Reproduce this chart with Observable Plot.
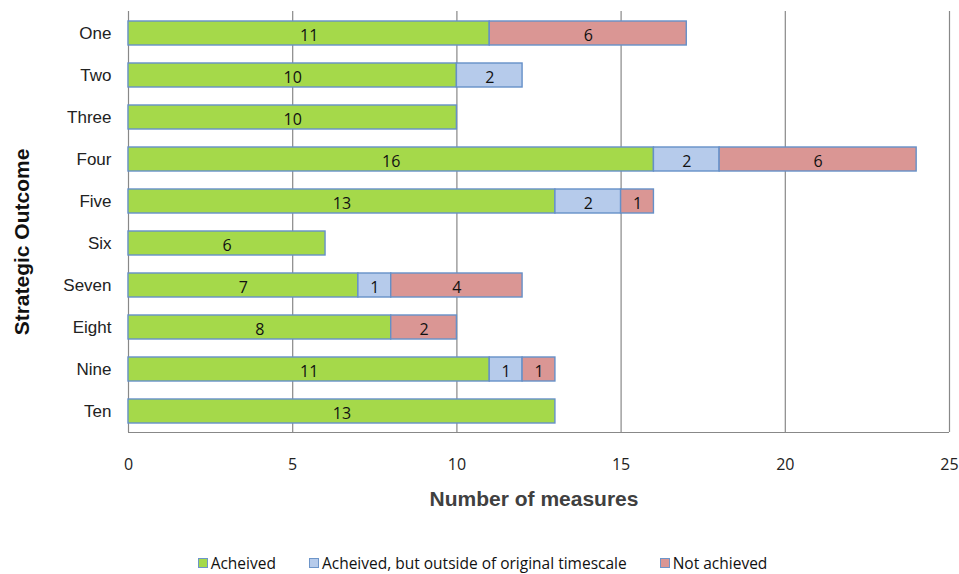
<!DOCTYPE html>
<html>
<head>
<meta charset="utf-8">
<script src="https://cdn.jsdelivr.net/npm/d3@7"></script>
<script src="https://cdn.jsdelivr.net/npm/@observablehq/plot@0.6"></script>
<style>
  body { margin: 0; background: #fff; font-family: "Liberation Sans", Arial, sans-serif; }
  #legend { display: flex; justify-content: center; gap: 33px; font-family: "Open Sans", "Liberation Sans", sans-serif; font-size: 15.5px; color: #111; margin-top: 12px; padding-left: 6px; }
  #legend span.item { display: flex; align-items: center; }
  #legend span.sw { display: inline-block; width: 8px; height: 8px; border: 1px solid #6d95c9; margin-right: 3px; }
</style>
</head>
<body>
<div id="chart"></div>
<div id="legend"></div>
<script>
const outcomes = ["One", "Two", "Three", "Four", "Five", "Six", "Seven", "Eight", "Nine", "Ten"];
const series = ["Acheived", "Acheived, but outside of original timescale", "Not achieved"];
const achieved    = [11, 10, 10, 16, 13, 6, 7, 8, 11, 13];
const lateAchieved = [0, 2, 0, 2, 2, 0, 1, 0, 1, 0];
const notAchieved = [6, 0, 0, 6, 1, 0, 4, 2, 1, 0];
const colors = ["#a5d94a", "#b6cbeb", "#da9694"];
const xTicks = [0, 5, 10, 15, 20, 25];

const seriesValues = [achieved, lateAchieved, notAchieved];
const data = [];
series.forEach((s, si) => {
  outcomes.forEach((o, oi) => {
    data.push({outcome: o, series: s, value: seriesValues[si][oi]});
  });
});
const nonzero = data.filter(d => d.value > 0);

const chart = Plot.plot({
  width: 959,
  height: 540,
  marginLeft: 128,
  marginRight: 10,
  marginTop: 11,
  marginBottom: 108,
  style: {fontFamily: "Liberation Sans, Arial, sans-serif", fontSize: "15px", color: "#222"},
  x: {domain: [0, 25], ticks: xTicks, grid: false, label: null},
  y: {domain: outcomes, paddingInner: 0.43, paddingOuter: 0.215, label: null},
  color: {domain: series, range: colors},
  marks: [
    Plot.ruleX(xTicks, {stroke: "#888", strokeWidth: 1.2}),
    Plot.ruleY([outcomes[outcomes.length - 1]], {x1: 0, x2: 25, stroke: "#888", strokeWidth: 1.2, dy: 21}),
    Plot.barX(nonzero, Plot.stackX({x: "value", y: "outcome", fill: "series", stroke: "#6590c8", strokeWidth: 1.4, order: null})),
    Plot.text(nonzero, Plot.stackX({x: "value", y: "outcome", z: "series", text: d => String(d.value), fill: "#111", fontSize: 16, dy: 2, fontFamily: "Open Sans, Liberation Sans, sans-serif", order: null})),
    Plot.axisX({ticks: xTicks, tickSize: 0, tickPadding: 26, fontSize: 16, label: null, fill: "#222", fontFamily: "Open Sans, Liberation Sans, sans-serif"}),
    Plot.axisY({tickSize: 0, tickPadding: 17, fontSize: 17, label: null, fill: "#222"}),
    Plot.text(["Number of measures"], {frameAnchor: "bottom", dx: -5, dy: 73, fontWeight: "bold", fontSize: 21, fill: "#404040"}),
    Plot.text(["Strategic Outcome"], {frameAnchor: "left", textAnchor: "middle", rotate: -90, dx: -106, dy: 20, fontWeight: "bold", fontSize: 21, fill: "#111"})
  ]
});
document.getElementById("chart").appendChild(chart);

const legend = document.getElementById("legend");
series.forEach((s, i) => {
  const item = document.createElement("span");
  item.className = "item";
  const sw = document.createElement("span");
  sw.className = "sw";
  sw.style.background = colors[i];
  item.appendChild(sw);
  item.appendChild(document.createTextNode(s));
  legend.appendChild(item);
});
</script>
</body>
</html>
